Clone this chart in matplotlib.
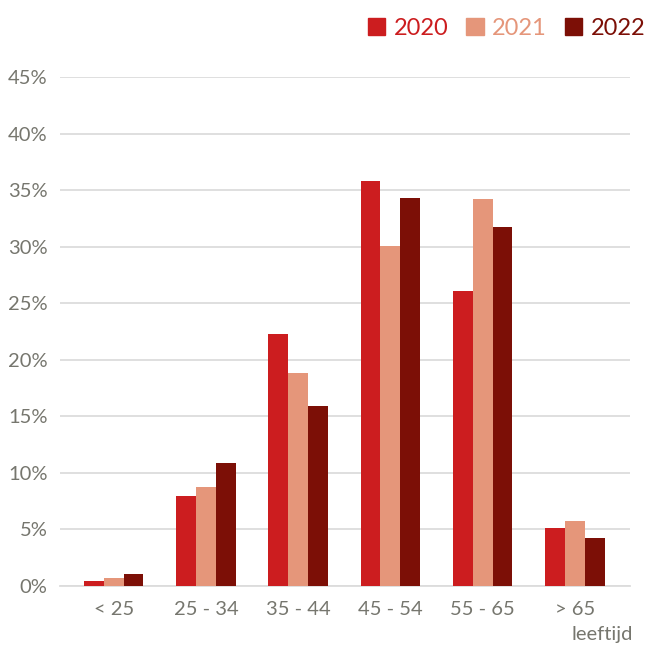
import numpy as np
import matplotlib.pyplot as plt
from matplotlib.patches import Patch

plt.rcParams['font.family'] = ['Lato', 'DejaVu Sans']

# Age groups and share per year (fractions)
categories = ['< 25', '25 - 34', '35 - 44', '45 - 54', '55 - 65', '> 65']
years = ['2020', '2021', '2022']
vals_2020 = [0.0045, 0.079, 0.223, 0.358, 0.261, 0.051]
vals_2021 = [0.0065, 0.0875, 0.188, 0.301, 0.342, 0.057]
vals_2022 = [0.0100, 0.109, 0.159, 0.343, 0.317, 0.042]
colors = ['#CC1D1F', '#E5967A', '#7C0F06']
text_col = '#76766e'

fig = plt.figure(figsize=(6.47, 6.48), dpi=100)
ax = fig.add_axes([0.093, 0.096, 0.881, 0.785])

x = np.arange(len(categories))
w = 0.215
for i, (vals, c) in enumerate(zip([vals_2020, vals_2021, vals_2022], colors)):
    ax.bar(x + (i - 1) * w, vals, width=w, color=c, zorder=3)

ax.set_ylim(0, 0.45)
ax.set_xlim(-0.58, 5.6)
ax.set_yticks(np.arange(0, 0.46, 0.05))
ax.set_yticklabels([f'{int(round(v * 100))}%' for v in np.arange(0, 0.46, 0.05)])
ax.set_xticks(x)
ax.set_xticklabels(categories)
ax.grid(axis='y', color='#dcdcdc', linewidth=1.3, zorder=0)
for s in ['top', 'right', 'left']:
    ax.spines[s].set_visible(False)
ax.spines['bottom'].set_color('#dcdcdc')
ax.spines['bottom'].set_linewidth(1.3)
ax.tick_params(axis='both', length=0, labelsize=14.5, colors=text_col)
ax.tick_params(axis='y', pad=9)
ax.tick_params(axis='x', pad=11)

handles = [Patch(color=c, label=y) for c, y in zip(colors, years)]
leg = fig.legend(handles=handles, loc='upper right', bbox_to_anchor=(1.03, 1.005),
                 ncol=3, frameon=False, fontsize=17, handlelength=0.75,
                 handleheight=0.75, handletextpad=0.35, columnspacing=0.75)
for t, c in zip(leg.get_texts(), colors):
    t.set_color(c)

fig.text(0.978, 0.008, 'leeftijd', ha='right', va='bottom', fontsize=14.5, color=text_col)

fig.savefig('out.png', dpi=100)
